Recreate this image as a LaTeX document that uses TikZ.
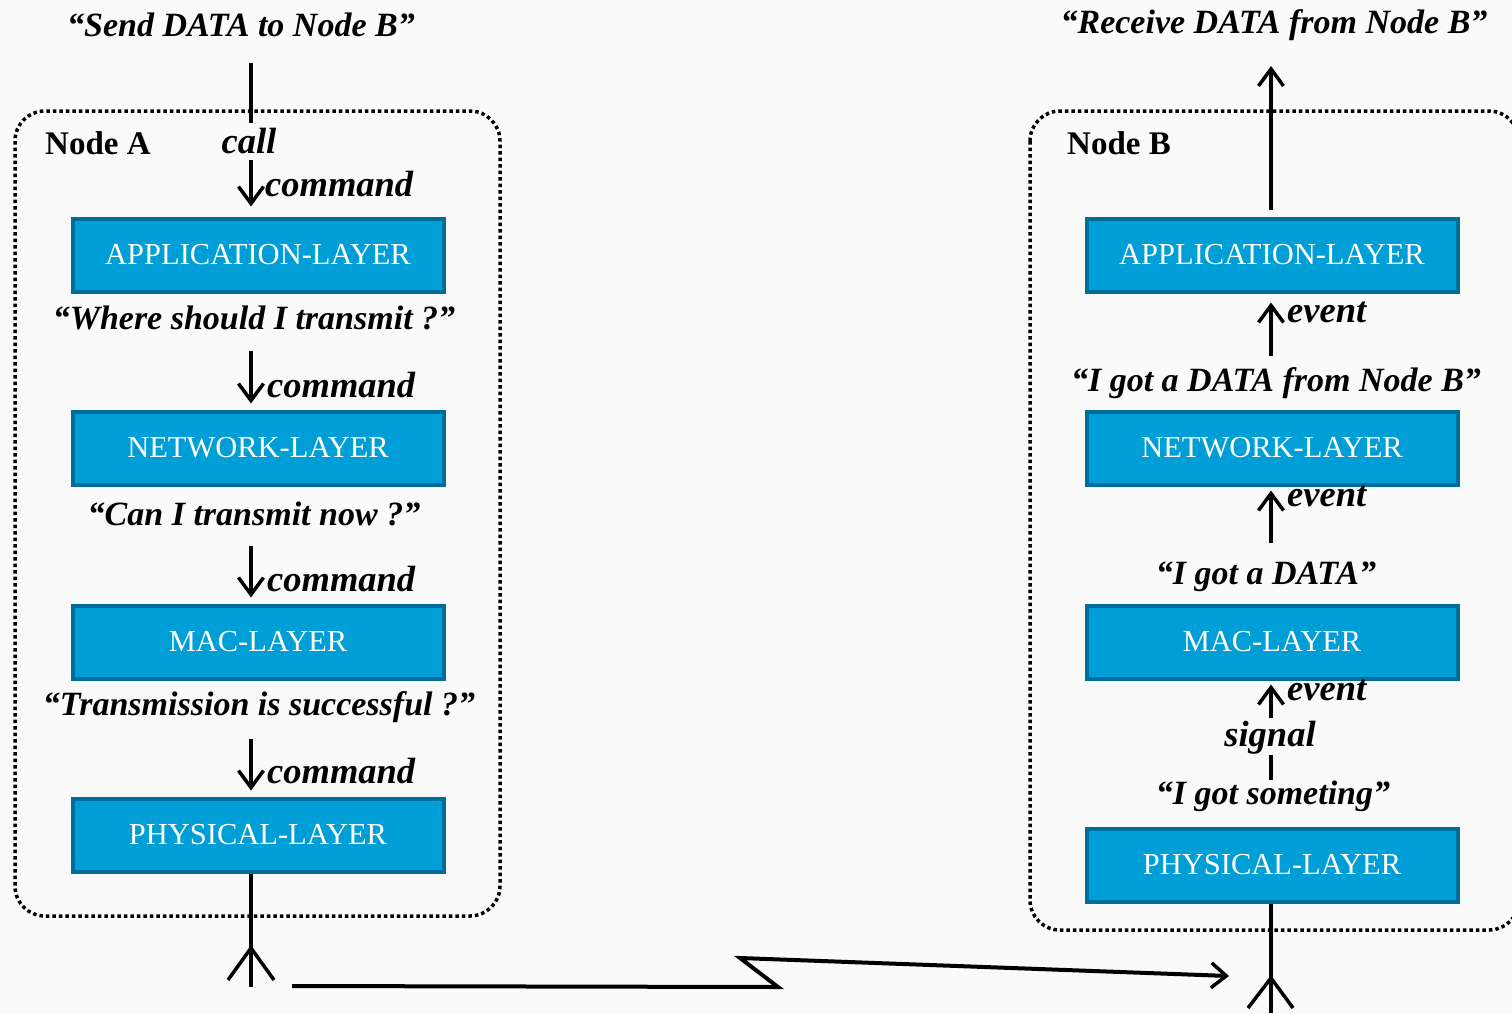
\documentclass[tikz,border=0pt]{standalone}
\usepackage{fontspec}
\setmainfont{Liberation Serif}
\usetikzlibrary{arrows.meta,calc}
\definecolor{layerfill}{RGB}{0,158,214}
\definecolor{layeredge}{RGB}{0,110,155}
\definecolor{paper}{RGB}{250,250,250}
\tikzset{
  layer/.style={draw=layeredge, fill=layerfill, line width=4pt, minimum width=371pt,
    minimum height=73pt, inner sep=0pt, text=white,
    font=\fontsize{30.5}{36}\selectfont},
  nodebox/.style={draw, line width=3.5pt, dash pattern=on 3.5pt off 3pt, rounded corners=30pt},
  saying/.style={inner sep=2pt, font=\fontsize{34}{40}\selectfont\bfseries\itshape},
  kind/.style={inner sep=1pt, font=\fontsize{36.5}{42}\selectfont\bfseries\itshape},
  title/.style={inner sep=1pt, font=\fontsize{33}{40}\selectfont\bfseries},
  flow/.style={line width=3.5pt, -{Straight Barb[length=17pt,width=25pt,line width=3.5pt]}},
  wire/.style={line width=3.5pt},
}
\begin{document}
\begin{tikzpicture}[x=1pt,y=-1pt]
\useasboundingbox[fill=paper] (0,0) rectangle (1512,1013);
\clip (0,0) rectangle (1512,1013);

% ---------- Node A (sender) ----------
\coordinate (xA) at (251,0);
\draw[nodebox] (15,111) rectangle (500,916);
\node[title, anchor=west] (titleA) at (44,143) {Node A};

\node[saying] (send) at (241,25) {“Send DATA to Node B”};
\coordinate (callTop) at (251,63);
\node[kind] (call) at (249,141) {call};

\node[layer] (appA) at (258,255) {APPLICATION-LAYER};
\node[layer] (netA) at (258,448) {NETWORK-LAYER};
\node[layer] (macA) at (258,642) {MAC-LAYER};
\node[layer] (phyA) at (258,835) {PHYSICAL-LAYER};

\node[saying] (qA1) at (254,318) {“Where should I transmit ?”};
\node[saying] (qA2) at (254,514) {“Can I transmit now ?”};
\node[saying] (qA3) at (259,707) {“Transmission is successful ?”};

\draw[wire] (callTop) -- ($(call.center -| xA)+(0,-18)$);
\draw[flow] ($(call.center -| xA)+(0,19)$) -- ($(appA.north -| xA)+(0,-10)$);
\draw[flow] ($(qA1.center -| xA)+(0,33)$) -- ($(netA.north -| xA)+(0,-6)$);
\draw[flow] ($(qA2.center -| xA)+(0,32)$) -- ($(macA.north -| xA)+(0,-6)$);
\draw[flow] ($(qA3.center -| xA)+(0,32)$) -- ($(phyA.north -| xA)+(0,-6)$);

\node[kind, anchor=west] (cmd0) at (264,184) {command};
\node[kind, anchor=west] (cmd1) at (266,385) {command};
\node[kind, anchor=west] (cmd2) at (266,579) {command};
\node[kind, anchor=west] (cmd3) at (266,771) {command};

% antenna of node A
\coordinate (antA) at (251,987);
\coordinate (antAtip) at (251,948);
\draw[wire] (phyA.south -| xA) -- (antA);
\draw[wire] (228,980) -- (antAtip) -- (274,980);

% ---------- radio link ----------
\coordinate (lk0) at (292,986);
\coordinate (lk1) at (778,987);
\coordinate (lk2) at (740,958);
\coordinate (lk3) at (1229,976);
\draw[line width=4pt, line join=miter, -{Straight Barb[length=15pt,width=25pt,line width=3.5pt]}]
  (lk0) -- (lk1) -- (lk2) -- (lk3);

% ---------- Node B (receiver) ----------
\coordinate (xB) at (1271,0);
\draw[nodebox] (1030,111) rectangle (1519,930);
\node[title, anchor=west] (titleB) at (1066,143) {Node B};

\node[saying] (recv) at (1274,25) {“Receive DATA from Node B”};
\coordinate (recvEnd) at (1271,66);

\node[layer] (appB) at (1272,255) {APPLICATION-LAYER};
\node[layer] (netB) at (1272,448) {NETWORK-LAYER};
\node[layer] (macB) at (1272,642) {MAC-LAYER};
\node[layer] (phyB) at (1272,865) {PHYSICAL-LAYER};

\node[saying] (gB1) at (1276,383) {“I got a DATA from Node B”};
\node[saying] (gB2) at (1266,577) {“I got a DATA”};
\node[kind] (sig) at (1270,738) {signal};
\node[saying] (gB3) at (1273,796) {“I got someting”};

\draw[flow] ($(appB.north -| xB)+(0,-7)$) -- (recvEnd);
\draw[flow] ($(gB1.center -| xB)+(0,-27)$) -- ($(appB.south -| xB)+(0,9)$);
\draw[flow] ($(gB2.center -| xB)+(0,-34)$) -- ($(netB.south -| xB)+(0,4)$);
\draw[flow] ($(sig.center -| xB)+(0,-20)$) -- ($(macB.south -| xB)+(0,4)$);
\draw[wire] ($(gB3.center -| xB)+(0,-16)$) -- ($(sig.center -| xB)+(0,17)$);

\node[kind, anchor=west] (ev1) at (1286,312) {event};
\node[kind, anchor=west] (ev2) at (1286,496) {event};
\node[kind, anchor=west] (ev3) at (1286,690) {event};

% antenna of node B
\coordinate (antB) at (1271,1013);
\coordinate (antBtip) at (1271,978);
\draw[wire] (phyB.south -| xB) -- (antB);
\draw[wire] (1248,1008) -- (antBtip) -- (1293,1008);
\end{tikzpicture}
\end{document}
